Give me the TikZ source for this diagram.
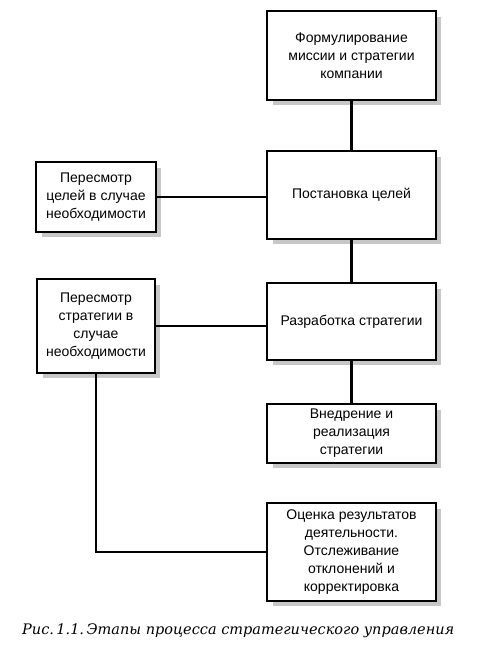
\documentclass[tikz,border=0pt]{standalone}
\usepackage{fontspec}
\setmainfont{Liberation Sans}
\newfontfamily\capfont{DejaVu Serif}
\begin{document}
\begin{tikzpicture}[x=1pt,y=-1pt,
  boxst/.style={draw=black, line width=2.2pt, fill=white, inner sep=0pt, align=center,
     font=\fontsize{14}{18}\selectfont},
  conn/.style={line width=2.2pt}]
\useasboundingbox (0,0) rectangle (496,660);
% shadows
\foreach \a/\b/\c/\d in {267/11/436/100, 267/151/436/239, 36/162/156/232, 267/283/436/360, 37/279/155/373, 267/404/436/463, 267/503/436/601}{
  \fill[black!22] (\a+6,\b+6) rectangle (\c+5,\d+5);
}
\node[boxst, minimum width=169pt, minimum height=89pt] (mis) at (351.5,55.5) {Формулирование\\миссии и стратегии\\компании};
\node[boxst, minimum width=169pt, minimum height=88pt] (goal) at (351.5,195) {Постановка целей};
\node[boxst, minimum width=120pt, minimum height=70pt] (rg) at (96,197) {Пересмотр\\целей в случае\\необходимости};
\node[boxst, minimum width=169pt, minimum height=77pt] (str) at (351.5,321.5) {Разработка стратегии};
\node[boxst, minimum width=118pt, minimum height=94pt] (rs) at (96,326) {Пересмотр\\стратегии в\\случае\\необходимости};
\node[boxst, minimum width=169pt, minimum height=59pt] (impl) at (351.5,433.5) {Внедрение и\\реализация\\стратегии};
\node[boxst, minimum width=169pt, minimum height=98pt] (eval) at (351.5,552) {Оценка результатов\\деятельности.\\Отслеживание\\отклонений и\\корректировка};
\draw[conn] (mis.south) -- (goal.north);
\draw[conn] (goal.south) -- (str.north);
\draw[conn] (str.south) -- (impl.north);
\draw[conn] (rg.east) -- (rg.east -| goal.west);
\draw[conn] (rs.east) -- (rs.east -| str.west);
\coordinate (corner) at (96,552);
\draw[conn] (rs.south) -- (corner) -- (eval.west);
\node[font=\capfont\itshape\fontsize{14.5}{16}\selectfont, anchor=west, inner sep=0pt] (cap) at (22,631) {Рис.\,1.1.\,Этапы процесса стратегического управления};
\end{tikzpicture}
\end{document}
